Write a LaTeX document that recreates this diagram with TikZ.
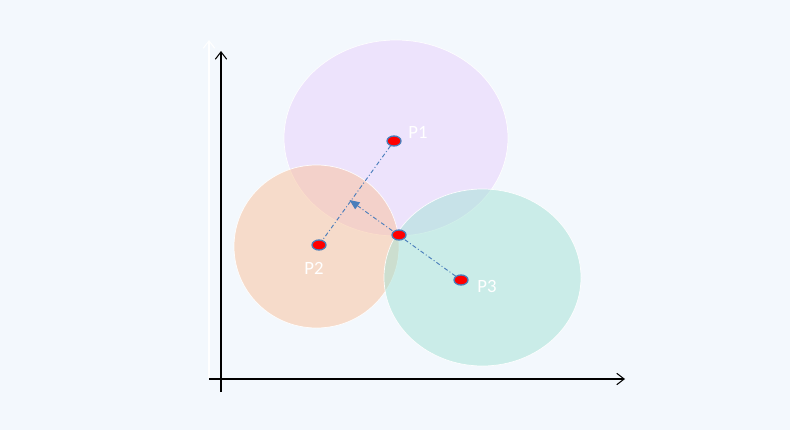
\documentclass[tikz,border=0pt]{standalone}
\usepackage{fontspec}
\setmainfont{Carlito}
\usetikzlibrary{arrows.meta,shapes.geometric}
\definecolor{bgblue}{HTML}{F3F8FD}
\definecolor{lilac}{RGB}{233,208,252}
\definecolor{peach}{RGB}{249,192,153}
\definecolor{mint}{RGB}{163,226,213}
\definecolor{linkblue}{HTML}{4A7EBB}

\begin{document}
\begin{tikzpicture}[
  x=0.03cm,y=-0.03cm,
  blob/.style={fill opacity=0.5,draw=white,draw opacity=0.9,line width=0.6pt},
  dot/.style={ellipse,draw=linkblue,fill=red,line width=1.1pt,inner sep=0pt,minimum width=0.42cm,minimum height=0.3cm},
  tag/.style={text=white,font=\fontsize{16}{18}\selectfont},
  link/.style={draw=linkblue,line width=0.8pt,dash pattern=on 3.5pt off 2pt on 0.8pt off 2pt},
  axis/.style={line width=0.9pt,-{Straight Barb[length=2.2mm,width=3.4mm]}}
]
\useasboundingbox[fill=bgblue] (0,0) rectangle (790,430);
% coverage areas
\fill[blob,fill=lilac] (396,138) ellipse [x radius=112,y radius=98];
\fill[blob,fill=peach] (316.5,246.5) ellipse [x radius=82.5,y radius=81.5];
\fill[blob,fill=mint] (482.5,277.5) ellipse [x radius=98.5,y radius=88.5];
% axes
\coordinate (wbot) at (209,378);
\coordinate (wtop) at (209,40);
\coordinate (ybot) at (221,392);
\coordinate (ytop) at (221,51);
\coordinate (xleft) at (209,379);
\coordinate (xright) at (625,379);
\draw[axis,white] (wbot) -- (wtop);
\draw[axis] (ybot) -- (ytop);
\draw[axis] (xleft) -- (xright);
% stations
\node[dot] (p1) at (394,141) {};
\node[dot] (p2) at (319,245) {};
\node[dot] (p3) at (461,280) {};
\coordinate (tip) at (349.5,200);
\draw[link] (p1) -- (p2);
\draw[link,-{Triangle[length=3mm,width=2.5mm]}] (p3) -- (tip);
\node[dot] (c) at (399,235) {};
\node[tag] (l1) at (418,132) {P1};
\node[tag] (l2) at (314,268) {P2};
\node[tag] (l3) at (487,286) {P3};
\end{tikzpicture}
\end{document}
